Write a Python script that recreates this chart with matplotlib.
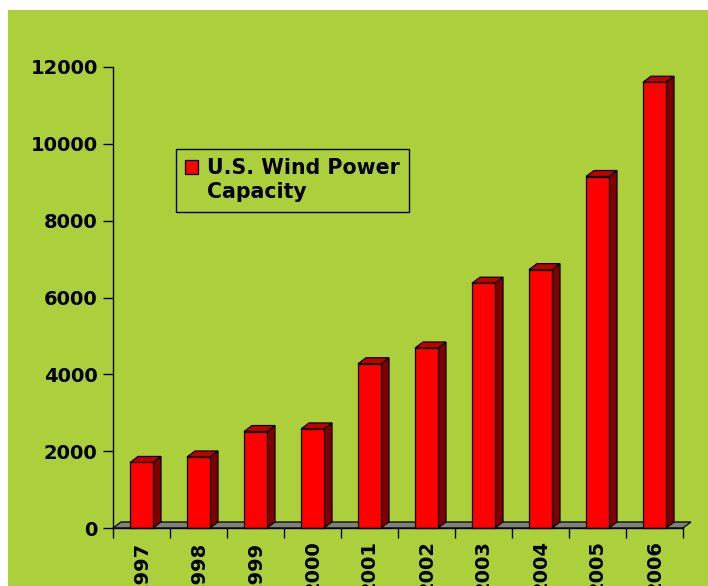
import numpy as np
import matplotlib.pyplot as plt
from matplotlib.patches import Rectangle, Patch

years = ['1997', '1998', '1999', '2000', '2001', '2002', '2003', '2004', '2005', '2006']
capacity = [1706, 1848, 2511, 2578, 4275, 4685, 6372, 6725, 9149, 11603]
legend_lines = ['U.S. Wind Power', 'Capacity']

green = '#acd03b'
plt.rcParams['font.family'] = ['DejaVu Sans']
plt.rcParams['font.weight'] = 'bold'

fig = plt.figure(figsize=(7.08, 5.86), dpi=100, facecolor='white')
fig.patches.append(Rectangle((8/708, 0), 1, 1 - 10/586, transform=fig.transFigure,
                             facecolor=green, edgecolor='none', zorder=-10))
ax = fig.add_axes([113/708, 58/586, 570/708, 461/586])
ax.set_facecolor('none')

n = len(years)
ax.set_xlim(0, n)
ax.set_ylim(0, 12000)

# 3d look: depth offsets in data units
dx = 8/57
dy = 6/461*12000
off = 17/57
w = 23/57

# floor
ax.fill([0, n, n + dx, dx], [0, 0, dy, dy], facecolor='#808080', edgecolor='black',
        lw=0.9, clip_on=False, zorder=1)

for i, v in enumerate(capacity):
    x0 = i + off
    x1 = x0 + w
    # side
    ax.fill([x1, x1 + dx, x1 + dx, x1], [0, dy, v + dy, v], facecolor='#800000',
            edgecolor='black', lw=0.9, clip_on=False, zorder=2)
    # top
    ax.fill([x0, x1, x1 + dx, x0 + dx], [v, v, v + dy, v + dy], facecolor='#c00000',
            edgecolor='black', lw=0.9, clip_on=False, zorder=2)
    # front
    ax.fill([x0, x1, x1, x0], [0, 0, v, v], facecolor='#ff0000',
            edgecolor='black', lw=0.9, clip_on=False, zorder=3)

for s in ['top', 'right']:
    ax.spines[s].set_visible(False)
ax.spines['left'].set_linewidth(1.0)
ax.spines['bottom'].set_linewidth(1.0)
ax.spines['bottom'].set_zorder(4)

ax.set_yticks(np.arange(0, 12001, 2000))
ax.tick_params(axis='y', direction='out', length=7, width=1, pad=4, labelsize=14)
ax.set_xticks(np.arange(n) + 0.5)
ax.set_xticklabels(years, rotation=90, fontsize=14, va='top')
ax.set_xticks(np.arange(n + 1), minor=True)
ax.tick_params(axis='x', which='major', length=0, pad=9)
ax.tick_params(axis='x', which='minor', direction='out', length=7, width=1)
for t in ax.get_yticklabels() + ax.get_xticklabels():
    t.set_fontweight('bold')

# legend: marker next to the first line only
handles = [Patch(facecolor='#ff0000', edgecolor='black', lw=0.9),
           Patch(facecolor='none', edgecolor='none')]
leg = ax.legend(handles, legend_lines, loc='upper left',
                bbox_to_anchor=(63/570, 1 - 82/461),
                frameon=True, fancybox=False, handlelength=0.62,
                handleheight=0.62, handletextpad=0.45, borderpad=0.45,
                borderaxespad=0, labelspacing=0.2,
                prop={'weight': 'bold', 'size': 14.8})
leg.get_frame().set_edgecolor('black')
leg.get_frame().set_facecolor(green)
leg.get_frame().set_linewidth(1.0)
leg.get_frame().set_alpha(1)

fig.savefig('out.png', dpi=100, facecolor=fig.get_facecolor())
